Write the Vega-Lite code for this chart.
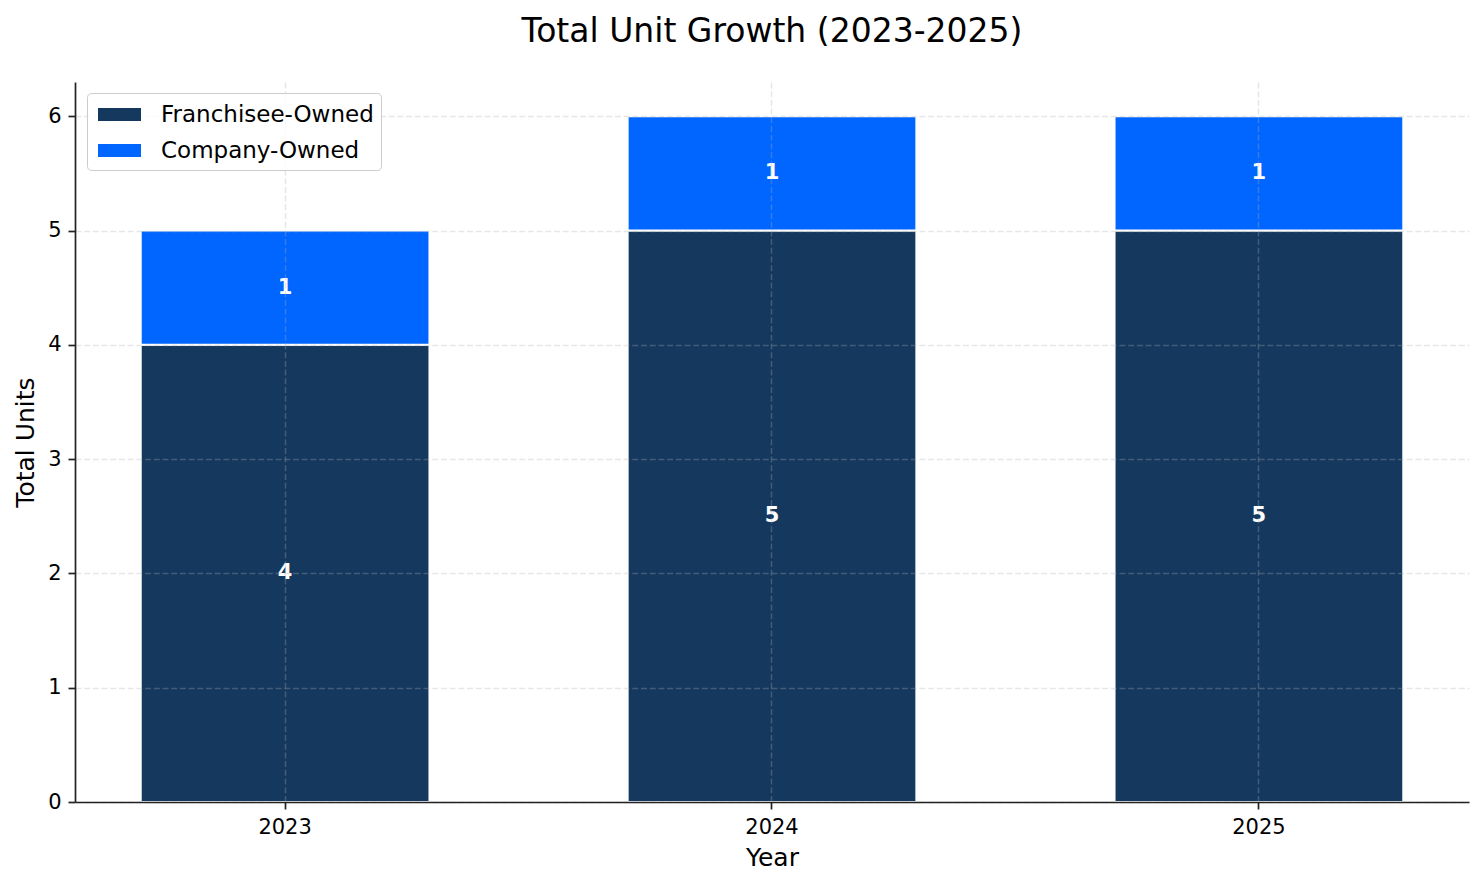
{
  "$schema": "https://vega.github.io/schema/vega-lite/v6.json",
  "width": 1394,
  "height": 720,
  "autosize": {"type": "none"},
  "padding": {"left": 75, "top": 82, "right": 15, "bottom": 82},
  "background": "white",
  "title": {
    "text": "Total Unit Growth (2023-2025)",
    "fontSize": 33,
    "font": "DejaVu Sans",
    "fontWeight": "normal",
    "color": "#000000",
    "anchor": "middle",
    "offset": 33
  },
  "data": {
    "values": [
      {"year": "2023", "owner": "Franchisee-Owned", "units": 4},
      {"year": "2023", "owner": "Company-Owned", "units": 1},
      {"year": "2024", "owner": "Franchisee-Owned", "units": 5},
      {"year": "2024", "owner": "Company-Owned", "units": 1},
      {"year": "2025", "owner": "Franchisee-Owned", "units": 5},
      {"year": "2025", "owner": "Company-Owned", "units": 1}
    ]
  },
  "transform": [
    {"stack": "units", "groupby": ["year"], "sort": [{"field": "owner", "order": "descending"}], "as": ["y0", "y1"]}
  ],
  "encoding": {
    "x": {
      "field": "year",
      "type": "nominal",
      "scale": {"paddingInner": 0.407, "paddingOuter": 0.135},
      "axis": {
        "title": "Year",
        "titleFontSize": 25,
        "titleFont": "DejaVu Sans",
        "titleFontWeight": "normal",
        "titleColor": "#000000",
        "titlePadding": 8,
        "labelAngle": 0,
        "labelFontSize": 21,
        "labelFont": "DejaVu Sans",
        "labelColor": "#000000",
        "labelPadding": 7,
        "tickSize": 7,
        "tickWidth": 1.7,
        "tickColor": "#222222",
        "domainColor": "#222222",
        "domainWidth": 1.7,
        "grid": true,
        "gridColor": "#b0b0b0",
        "gridOpacity": 0.3,
        "gridDash": [6, 2.7],
        "gridWidth": 1.5,
        "zindex": 1
      }
    },
    "y": {
      "field": "y0",
      "type": "quantitative",
      "scale": {"domain": [0, 6.3], "nice": false},
      "axis": {
        "title": "Total Units",
        "titleFontSize": 25,
        "titleFont": "DejaVu Sans",
        "titleFontWeight": "normal",
        "titleColor": "#000000",
        "titlePadding": 9,
        "values": [0, 1, 2, 3, 4, 5, 6],
        "labelFontSize": 21,
        "labelFont": "DejaVu Sans",
        "labelColor": "#000000",
        "labelPadding": 7,
        "tickSize": 7,
        "tickWidth": 1.7,
        "tickColor": "#222222",
        "domainColor": "#222222",
        "domainWidth": 1.7,
        "grid": true,
        "gridColor": "#b0b0b0",
        "gridOpacity": 0.3,
        "gridDash": [6, 2.7],
        "gridWidth": 1.5,
        "zindex": 1
      }
    }
  },
  "layer": [
    {
      "mark": {"type": "bar", "stroke": "white", "strokeWidth": 2},
      "encoding": {
        "y2": {"field": "y1"},
        "color": {
          "field": "owner",
          "type": "nominal",
          "scale": {"domain": ["Franchisee-Owned", "Company-Owned"], "range": ["#15385f", "#0066ff"]},
          "legend": {
            "title": null,
            "orient": "none",
            "legendX": 12,
            "legendY": 11,
            "zindex": 2,
            "symbolType": "M-1.5,-0.45H1.5V0.45H-1.5Z",
            "symbolSize": 822,
            "symbolOffset": 11,
            "symbolStrokeWidth": 0,
            "symbolOpacity": 1,
            "labelFontSize": 23,
            "labelFont": "DejaVu Sans",
            "labelColor": "#000000",
            "labelLimit": 400,
            "labelOffset": 27,
            "padding": 7,
            "rowPadding": 9,
            "strokeColor": "#cccccc",
            "cornerRadius": 4,
            "fillColor": "rgba(255,255,255,0.8)"
          }
        }
      }
    },
    {
      "transform": [
        {"fold": ["y0", "y1"]},
        {"aggregate": [{"op": "mean", "field": "value", "as": "mid"}], "groupby": ["year", "owner", "units"]}
      ],
      "mark": {"type": "text", "color": "white", "fontWeight": "bold", "fontSize": 21, "font": "DejaVu Sans", "baseline": "middle"},
      "encoding": {
        "y": {"field": "mid", "type": "quantitative", "title": "Total Units"},
        "text": {"field": "units", "type": "quantitative"}
      }
    }
  ],
  "config": {"view": {"stroke": null}}
}
